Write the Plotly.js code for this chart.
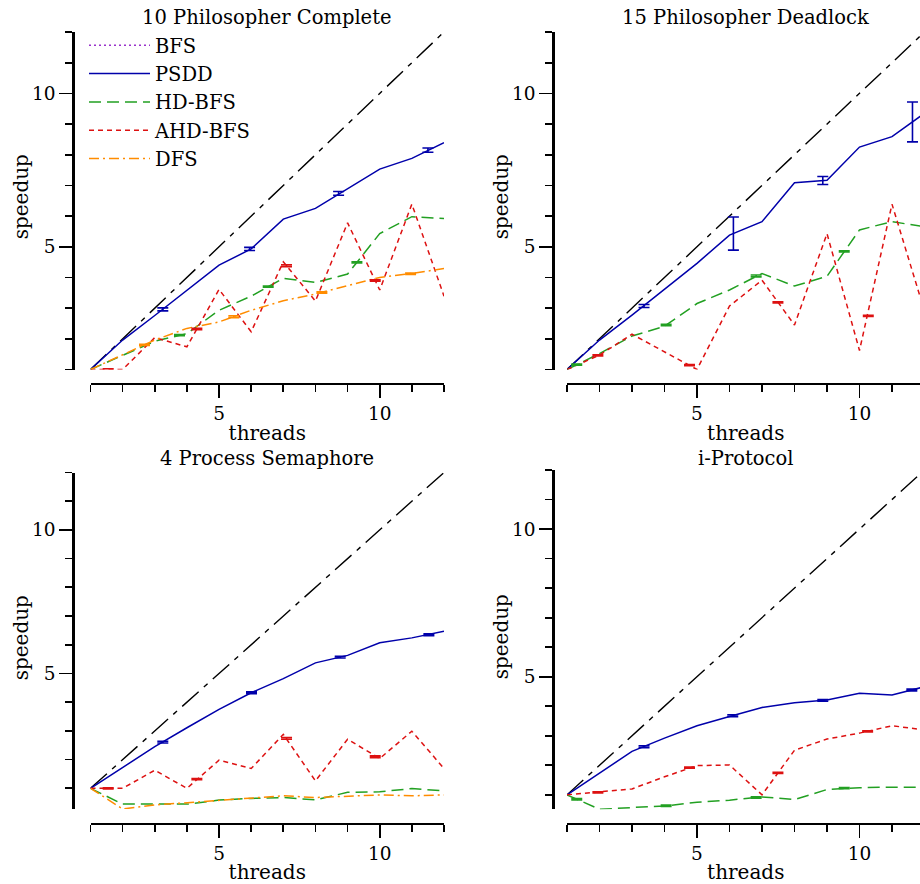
<!DOCTYPE html>
<html><head><meta charset="utf-8">
<script src="https://cdn.plot.ly/plotly-3.0.1.min.js"></script>
<style>html,body{margin:0;padding:0;background:#fff;overflow:hidden}#wrap{width:920px;height:884px;overflow:hidden}#chart{width:960px;height:884px}</style>
</head><body><div id="wrap"><div id="chart"></div></div>
<script>
// ---------------- data ----------------
const threads = [1,2,3,4,5,6,7,8,9,10,11,12];
const panelTitles = ['10 Philosopher Complete','15 Philosopher Deadlock','4 Process Semaphore','i-Protocol'];
const xTitle = 'threads';
const yTitle = 'speedup';
const idealX = [1,12];
const idealY = [1,12];
const bfsX = [1];
const bfsY = [1];

// 10 Philosopher Complete
const tlPSDD = [1,1.96,2.76,3.57,4.40,4.93,5.90,6.25,6.90,7.53,7.88,8.39];
const tlHD   = [1,1.47,1.92,2.17,2.93,3.39,3.97,3.84,4.11,5.43,5.98,5.92];
const tlAHD  = [1,1.00,2.04,1.74,3.61,2.23,4.51,3.23,5.78,3.59,6.39,3.39];
const tlDFS  = [1,1.47,1.96,2.34,2.55,2.93,3.24,3.46,3.72,4.00,4.13,4.29];
const tlPSDDerrX = [3.25,5.95,8.72,11.5], tlPSDDerrY = [2.96,4.93,6.74,8.15], tlPSDDerr = [0.05,0.05,0.06,0.07];
const tlHDerrX = [3.77,6.53,9.29], tlHDerrY = [2.12,3.70,4.49], tlHDerr = [0.02,0.02,0.02];
const tlAHDerrX = [1.55,4.31,7.10,9.86], tlAHDerrY = [1.00,2.32,4.38,3.90], tlAHDerr = [0.02,0.02,0.03,0.02];
const tlDFSerrX = [2.68,5.46,8.20,10.96], tlDFSerrY = [1.80,2.72,3.51,4.12], tlDFSerr = [0.02,0.03,0.02,0.02];

// 15 Philosopher Deadlock
const trPSDD = [1,1.96,2.77,3.61,4.46,5.38,5.82,7.09,7.17,8.25,8.59,9.35];
const trHD   = [1,1.52,2.09,2.41,3.15,3.59,4.13,3.72,4.04,5.55,5.82,5.65];
const trAHD  = [1,1.47,2.15,1.58,1.00,3.07,3.91,2.45,5.43,1.62,6.39,2.90];
const trPSDDerrX = [3.37,6.12,8.87,11.63], trPSDDerrY = [3.07,5.43,7.16,9.07], trPSDDerr = [0.05,0.54,0.13,0.65];
const trHDerrX = [1.30,4.05,6.82,9.53], trHDerrY = [1.16,2.45,4.05,4.85], trHDerr = [0.02,0.02,0.03,0.02];
const trAHDerrX = [1.95,4.77,7.49,10.27], trAHDerrY = [1.46,1.14,3.19,2.75], trAHDerr = [0.02,0.02,0.02,0.02];

// 4 Process Semaphore
const blPSDD = [1,1.72,2.45,3.11,3.75,4.33,4.82,5.37,5.63,6.07,6.24,6.47];
const blHD   = [1,0.45,0.45,0.45,0.59,0.65,0.68,0.60,0.86,0.88,0.99,0.91];
const blAHD  = [1,1.00,1.63,1.00,1.98,1.69,2.88,1.26,2.71,2.04,2.99,1.69];
const blDFS  = [1,0.28,0.42,0.50,0.59,0.65,0.74,0.68,0.72,0.77,0.74,0.77];
const blPSDDerrX = [3.25,6.01,8.77,11.53], blPSDDerrY = [2.61,4.33,5.57,6.35], blPSDDerr = [0.03,0.03,0.03,0.03];
const blAHDerrX = [1.55,4.31,7.10,9.86], blAHDerrY = [1.00,1.32,2.74,2.10], blAHDerr = [0.02,0.02,0.03,0.03];

// i-Protocol
const brPSDD = [1,1.74,2.47,2.92,3.34,3.65,3.96,4.12,4.21,4.44,4.38,4.66];
const brHD   = [1,0.51,0.57,0.62,0.75,0.82,0.93,0.84,1.18,1.24,1.26,1.26];
const brAHD  = [1,1.09,1.20,1.61,1.99,2.01,1.00,2.51,2.89,3.09,3.34,3.20];
const brPSDDerrX = [3.37,6.10,8.87,11.61], brPSDDerrY = [2.63,3.68,4.20,4.55], brPSDDerr = [0.03,0.03,0.03,0.03];
const brHDerrX = [1.30,4.05,6.82,9.53], brHDerrY = [0.85,0.63,0.91,1.23], brHDerr = [0.02,0.02,0.02,0.02];
const brAHDerrX = [1.95,4.77,7.49,10.25], brAHDerrY = [1.08,1.92,1.74,3.15], brAHDerr = [0.02,0.02,0.02,0.02];

// ---------------- styles ----------------
const FONT = 'DejaVu Serif, serif';
const W = 960, H = 884;
const sty = {
  'BFS':    {color:'#9932cc', dash:'2px,3px'},
  'PSDD':   {color:'#0000aa', dash:'solid'},
  'HD-BFS': {color:'#22a022', dash:'12px,6px'},
  'AHD-BFS':{color:'#dd1111', dash:'5px,4px'},
  'DFS':    {color:'#ff8c00', dash:'10px,4px,2px,4px'}
};

const traces = [];
function line(name, y, ax, show){
  traces.push({type:'scatter', mode:'lines', x:threads, y:y, name:name, xaxis:'x'+ax, yaxis:'y'+ax,
    showlegend:!!show, legendgroup:name,
    line:{color:sty[name].color, dash:sty[name].dash, width:1.5}, hoverinfo:'skip'});
}
function errs(name, ex, ey, ee, ax){
  traces.push({type:'scatter', mode:'markers', x:ex, y:ey, xaxis:'x'+ax, yaxis:'y'+ax, showlegend:false,
    marker:{size:1, color:'rgba(0,0,0,0)'}, hoverinfo:'skip',
    error_y:{type:'data', array:ee, visible:true, color:sty[name].color, thickness:1.6, width:5.5}});
}
function ideal(ax){
  traces.push({type:'scatter', mode:'lines', x:idealX, y:idealY, xaxis:'x'+ax, yaxis:'y'+ax, showlegend:false,
    line:{color:'#000', dash:'22px,7px,5px,7px', width:1.4}, hoverinfo:'skip'});
}

// TL (axis '')
ideal('');
traces.push({type:'scatter', mode:'lines', x:bfsX, y:bfsY, name:'BFS', xaxis:'x', yaxis:'y', showlegend:true,
  line:{color:sty['BFS'].color, dash:sty['BFS'].dash, width:1.5}, hoverinfo:'skip'});
line('PSDD', tlPSDD, '', true);
line('HD-BFS', tlHD, '', true);
line('AHD-BFS', tlAHD, '', true);
line('DFS', tlDFS, '', true);
errs('PSDD', tlPSDDerrX, tlPSDDerrY, tlPSDDerr, '');
errs('HD-BFS', tlHDerrX, tlHDerrY, tlHDerr, '');
errs('AHD-BFS', tlAHDerrX, tlAHDerrY, tlAHDerr, '');
errs('DFS', tlDFSerrX, tlDFSerrY, tlDFSerr, '');
// TR
ideal('2');
line('PSDD', trPSDD, '2'); line('HD-BFS', trHD, '2'); line('AHD-BFS', trAHD, '2');
errs('PSDD', trPSDDerrX, trPSDDerrY, trPSDDerr, '2');
errs('HD-BFS', trHDerrX, trHDerrY, trHDerr, '2');
errs('AHD-BFS', trAHDerrX, trAHDerrY, trAHDerr, '2');
// BL
ideal('3');
line('PSDD', blPSDD, '3'); line('HD-BFS', blHD, '3'); line('AHD-BFS', blAHD, '3'); line('DFS', blDFS, '3');
errs('PSDD', blPSDDerrX, blPSDDerrY, blPSDDerr, '3');
errs('AHD-BFS', blAHDerrX, blAHDerrY, blAHDerr, '3');
// BR
ideal('4');
line('PSDD', brPSDD, '4'); line('HD-BFS', brHD, '4'); line('AHD-BFS', brAHD, '4');
errs('PSDD', brPSDDerrX, brPSDDerrY, brPSDDerr, '4');
errs('HD-BFS', brHDerrX, brHDerrY, brHDerr, '4');
errs('AHD-BFS', brAHDerrX, brAHDerrY, brAHDerr, '4');

// ---------------- layout ----------------
const px = v => v / W;          // page x -> paper
const py = v => 1 - v / H;      // page y -> paper
function xa(d0, d1, posY){
  return {domain:[px(d0), px(d1)], range:[1,12], anchor:'free', position:py(posY),
    showline:true, linewidth:2.7, linecolor:'#000', showgrid:false, zeroline:false,
    tickmode:'linear', tick0:0, dtick:5, ticks:'outside', ticklen:13, tickwidth:1.7, tickcolor:'#000',
    minor:{dtick:1, tick0:0, ticks:'outside', ticklen:7, tickwidth:1.7, tickcolor:'#000', showgrid:false},
    tickfont:{family:FONT, size:18.5, color:'#000'},
    title:{text:xTitle, font:{family:FONT, size:20, color:'#000'}, standoff:2}, fixedrange:true};
}
function ya(d0, d1, posX, ymin){
  return {domain:[py(d1), py(d0)], range:[ymin,12], anchor:'free', position:px(posX),
    showline:true, linewidth:2.7, linecolor:'#000', showgrid:false, zeroline:false,
    tickmode:'linear', tick0:0, dtick:5, ticks:'outside', ticklen:13, tickwidth:1.7, tickcolor:'#000',
    minor:{dtick:1, tick0:0, ticks:'outside', ticklen:7, tickwidth:1.7, tickcolor:'#000', showgrid:false},
    tickfont:{family:FONT, size:18.5, color:'#000'}, fixedrange:true};
}
const minOf = arrs => Math.min(...arrs.flat());
function ann(text, x, y, angle, size){
  return {text:text, x:px(x), y:py(y), xref:'paper', yref:'paper', xanchor:'center', yanchor:'middle',
    showarrow:false, textangle:angle||0, font:{family:FONT, size:size, color:'#000'}};
}

const layout = {
  width:W, height:H, margin:{l:0,r:0,t:0,b:0}, paper_bgcolor:'#fff', plot_bgcolor:'rgba(0,0,0,0)',
  font:{family:FONT, color:'#000'}, showlegend:true,
  xaxis: xa(90.5, 444, 383.5),
  yaxis: ya(32, 369.5, 73.3, minOf([tlPSDD,tlHD,tlAHD,tlDFS])),
  xaxis2: xa(567, 924.5, 383.5),
  yaxis2: ya(32, 369.5, 553.3, minOf([trPSDD,trHD,trAHD])),
  xaxis3: xa(90.5, 444, 823.5),
  yaxis3: ya(472.5, 809, 73.3, minOf([blPSDD,blHD,blAHD,blDFS])),
  xaxis4: xa(567, 924.5, 823.5),
  yaxis4: ya(470, 809.3, 553.3, minOf([brPSDD,brHD,brAHD])),
  legend:{x:px(84), y:py(26), xanchor:'left', yanchor:'top', bgcolor:'rgba(0,0,0,0)', borderwidth:0,
    font:{family:FONT, size:19.5, color:'#000'}, itemwidth:61, tracegroupgap:0, traceorder:'normal'},
  annotations:[
    ann(panelTitles[0], (90.5+444)/2, 17, 0, 19.5),
    ann(panelTitles[1], (567+924.5)/2, 17, 0, 19.5),
    ann(panelTitles[2], (90.5+444)/2, 458, 0, 19.5),
    ann(panelTitles[3], (567+924.5)/2, 458, 0, 19.5),
    ann(yTitle, 73.3-52, 197, -90, 20),
    ann(yTitle, 553.3-52, 197, -90, 20),
    ann(yTitle, 73.3-52, 638, -90, 20),
    ann(yTitle, 553.3-52, 637, -90, 20)
  ]
};
Plotly.newPlot('chart', traces, layout, {staticPlot:true, displayModeBar:false});
</script></body></html>
